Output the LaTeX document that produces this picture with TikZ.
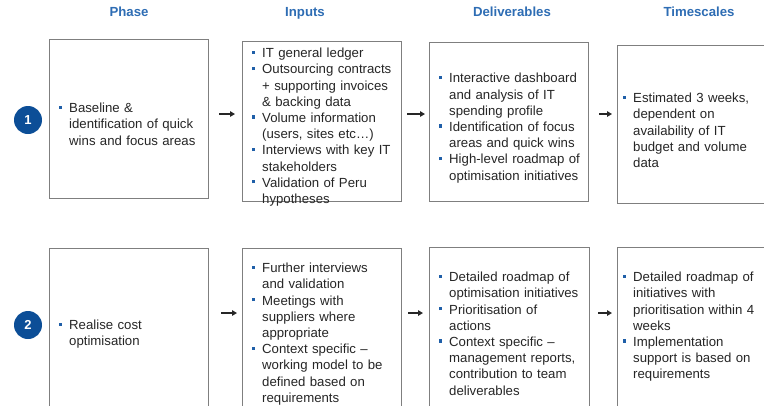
\documentclass[tikz,border=0pt]{standalone}
\usepackage{fontspec}
\setmainfont{Liberation Sans}
\usetikzlibrary{arrows.meta}
\definecolor{hdr}{HTML}{2E6DB4}
\definecolor{bul}{HTML}{1F5FA8}
\definecolor{circ}{HTML}{0C4E97}
\definecolor{edgegray}{HTML}{7F7F7F}
\definecolor{arrowgray}{HTML}{262626}
\newcommand{\bitem}{\par\leftskip=10pt\leavevmode\llap{\textcolor{bul}{\rule[3.8pt]{3.3pt}{3.3pt}}\hspace{7.3pt}}\strut}
\tikzset{
  box/.style={draw=edgegray, line width=1.3pt, rectangle, anchor=north west, inner sep=0pt},
  txt/.style={anchor=north west, inner sep=0pt, text width=170pt, align=left,
    font=\fontsize{13.2}{16.2}\selectfont, text=black!85},
  hdrtext/.style={anchor=base, inner sep=0pt, font=\fontsize{13.2}{16}\selectfont\bfseries, text=hdr},
  num/.style={circle, fill=circ, minimum size=28pt, inner sep=0pt, text=white,
    font=\fontsize{13}{15}\selectfont\bfseries},
  arr/.style={draw=arrowgray, line width=1.3pt, -{Triangle[length=5pt,width=5.5pt]}}
}
\begin{document}
\begin{tikzpicture}[x=1pt,y=-1pt]
\clip (0,0) rectangle (764,405);
\fill[white] (0,0) rectangle (764,405);
% headers
\node[hdrtext] (hphase) at (129,16.7) {Phase};
\node[hdrtext] (hinputs) at (305,16.7) {Inputs};
\node[hdrtext] (hdeliv) at (512,16.7) {Deliverables};
\node[hdrtext] (htime) at (699,16.7) {Timescales};
% row 1 boxes
\node[box, minimum width=159pt, minimum height=159pt] (p1) at (49,39) {};
\node[box, minimum width=159pt, minimum height=160pt] (i1) at (242,41) {};
\node[box, minimum width=159pt, minimum height=159pt] (d1) at (429,42) {};
\node[box, minimum width=160pt, minimum height=158pt] (t1) at (617,45) {};
% row 2 boxes
\node[box, minimum width=159pt, minimum height=161pt] (p2) at (49,248) {};
\node[box, minimum width=159pt, minimum height=161pt] (i2) at (242,248) {};
\node[box, minimum width=160pt, minimum height=162pt] (d2) at (429,247) {};
\node[box, minimum width=160pt, minimum height=162pt] (t2) at (617,247) {};
% circles
\node[num] (n1) at (28,120) {1};
\node[num] (n2) at (28,325) {2};
% texts row 1
\node[txt] (tp1) at (59,96.2) {\bitem Baseline \&\\identification of quick\\wins and focus areas\par};
\node[txt] (ti1) at (252,41.2) {\bitem IT general ledger
\bitem Outsourcing contracts\\+ supporting invoices\\\& backing data
\bitem Volume information\\(users, sites etc\ldots)
\bitem Interviews with key IT\\stakeholders
\bitem Validation of Peru\\hypotheses\par};
\node[txt] (td1) at (439,66.4) {\bitem Interactive dashboard\\and analysis of IT\\spending profile
\bitem Identification of focus\\areas and quick wins
\bitem High-level roadmap of\\optimisation initiatives\par};
\node[txt] (tt1) at (623,86.2) {\bitem Estimated 3 weeks,\\dependent on\\availability of IT\\budget and volume\\data\par};
% texts row 2
\node[txt] (tp2) at (59,313.2) {\bitem Realise cost\\optimisation\par};
\node[txt] (ti2) at (252,256.2) {\bitem Further interviews\\and validation
\bitem Meetings with\\suppliers where\\appropriate
\bitem Context specific --\\working model to be\\defined based on\\requirements\par};
\node[txt] (td2) at (439,265.2) {\bitem Detailed roadmap of\\optimisation initiatives
\bitem Prioritisation of\\actions
\bitem Context specific --\\management reports,\\contribution to team\\deliverables\par};
\node[txt] (tt2) at (623,265.2) {\bitem Detailed roadmap of\\initiatives with\\prioritisation within 4\\weeks
\bitem Implementation\\support is based on\\requirements\par};
% arrows
\coordinate (r1) at (0,114);
\coordinate (r2) at (0,313);
\draw[arr, shorten <=10pt, shorten >=7pt] (p1.east |- r1) -- (i1.west |- r1);
\draw[arr, shorten <=5pt, shorten >=4pt] (i1.east |- r1) -- (d1.west |- r1);
\draw[arr, shorten <=10pt, shorten >=5pt] (d1.east |- r1) -- (t1.west |- r1);
\draw[arr, shorten <=12pt, shorten >=5pt] (p2.east |- r2) -- (i2.west |- r2);
\draw[arr, shorten <=6pt, shorten >=6pt] (i2.east |- r2) -- (d2.west |- r2);
\draw[arr, shorten <=8pt, shorten >=5pt] (d2.east |- r2) -- (t2.west |- r2);
\end{tikzpicture}
\end{document}
